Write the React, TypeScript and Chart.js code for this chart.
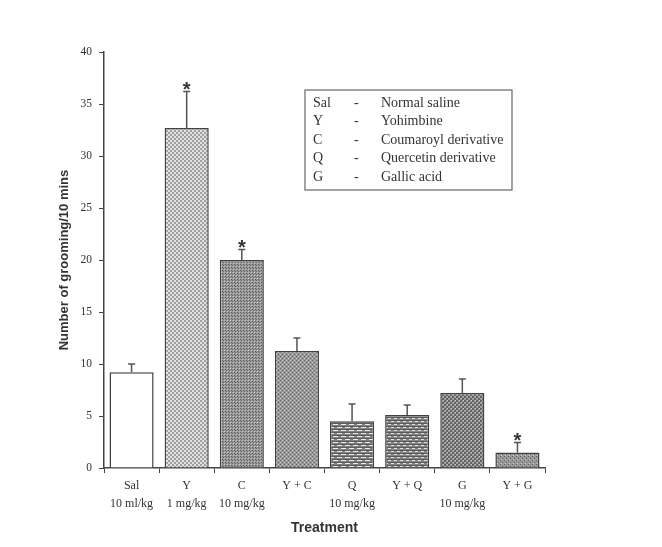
import React, { useEffect, useRef } from "react";
import { Chart, registerables } from "chart.js";

Chart.register(...registerables);

// ---- data ----
const categories: string[][] = [
  ["Sal", "10 ml/kg"],
  ["Y", "1 mg/kg"],
  ["C", "10 mg/kg"],
  ["Y + C"],
  ["Q", "10 mg/kg"],
  ["Y + Q"],
  ["G", "10 mg/kg"],
  ["Y + G"],
];
const means = [9.2, 32.7, 20.0, 11.25, 4.5, 5.1, 7.2, 1.5];
const errors = [0.8, 3.5, 1.0, 1.25, 1.65, 0.95, 1.35, 0.95];
const significant = [false, true, true, false, false, false, false, true];
const yMin = 0;
const yMax = 40;
const yStep = 5;
const legendAbbr = ["Sal", "Y", "C", "Q", "G"];
const legendNames = [
  "Normal saline",
  "Yohimbine",
  "Coumaroyl derivative",
  "Quercetin derivative",
  "Gallic acid",
];
const yTitle = "Number of grooming/10 mins";
const xTitle = "Treatment";

// ---- patterns ----
type Rect = [number, number, number, number, string];
function makePattern(w: number, h: number, bg: string, rects: Rect[]): CanvasPattern | string {
  const c = document.createElement("canvas");
  c.width = w;
  c.height = h;
  const g = c.getContext("2d");
  if (!g) return bg;
  g.fillStyle = bg;
  g.fillRect(0, 0, w, h);
  for (const [x, y, rw, rh, col] of rects) {
    g.fillStyle = col;
    g.fillRect(x, y, rw, rh);
  }
  const p = g.createPattern(c, "repeat");
  return p || bg;
}

function buildFills(): (CanvasPattern | string)[] {
  return [
    "#ffffff",
    makePattern(4, 4, "#e2e2e2", [
      [0, 0, 2, 2, "#a0a0a0"],
      [2, 2, 2, 2, "#a0a0a0"],
    ]),
    makePattern(3, 3, "#9a9a9a", [
      [0, 0, 1, 1, "#5a5a5a"],
      [1, 1, 1, 1, "#666666"],
      [2, 2, 1, 1, "#c0c0c0"],
    ]),
    makePattern(4, 4, "#9a9a9a", [
      [0, 0, 1, 1, "#5e5e5e"],
      [2, 2, 1, 1, "#5e5e5e"],
      [2, 0, 1, 1, "#c4c4c4"],
      [0, 2, 1, 1, "#c4c4c4"],
    ]),
    makePattern(8, 6, "#808080", [
      [0, 0, 8, 1, "#5c5c5c"],
      [1, 1, 5, 1, "#ececec"],
      [0, 3, 8, 1, "#5c5c5c"],
      [5, 4, 3, 1, "#ececec"],
      [0, 4, 2, 1, "#ececec"],
    ]),
    makePattern(6, 6, "#868686", [
      [0, 0, 6, 1, "#5a5a5a"],
      [1, 1, 3, 1, "#e0e0e0"],
      [0, 3, 6, 1, "#5a5a5a"],
      [4, 4, 2, 1, "#e0e0e0"],
      [0, 4, 1, 1, "#e0e0e0"],
    ]),
    makePattern(4, 4, "#9a9a9a", [
      [0, 0, 2, 2, "#646464"],
      [2, 2, 2, 2, "#646464"],
      [3, 0, 1, 1, "#c0c0c0"],
      [1, 2, 1, 1, "#c0c0c0"],
    ]),
    makePattern(4, 4, "#9a9a9a", [
      [0, 0, 1, 1, "#5e5e5e"],
      [2, 2, 1, 1, "#5e5e5e"],
      [1, 3, 1, 1, "#cccccc"],
    ]),
  ];
}

const errorBarPlugin = {
  id: "errorBars",
  afterDatasetsDraw(chart: any) {
    const ctx = chart.ctx as CanvasRenderingContext2D;
    const meta = chart.getDatasetMeta(0);
    const yScale = chart.scales.y;
    ctx.save();
    ctx.strokeStyle = "#555555";
    ctx.lineWidth = 1.5;
    meta.data.forEach((bar: any, i: number) => {
      const x = bar.x;
      const yTop = yScale.getPixelForValue(means[i]);
      const yErr = yScale.getPixelForValue(means[i] + errors[i]);
      ctx.beginPath();
      ctx.moveTo(x, yTop);
      ctx.lineTo(x, yErr);
      ctx.moveTo(x - 3.5, yErr);
      ctx.lineTo(x + 3.5, yErr);
      ctx.stroke();
      if (significant[i]) {
        ctx.fillStyle = "#333333";
        ctx.font = "bold 20px 'Liberation Sans', Arial, sans-serif";
        ctx.textAlign = "center";
        ctx.textBaseline = "alphabetic";
        ctx.fillText("*", x, yErr + 4);
      }
    });
    ctx.restore();
  },
};

const legendBoxPlugin = {
  id: "legendBox",
  afterDraw(chart: any) {
    const ctx = chart.ctx as CanvasRenderingContext2D;
    const area = chart.chartArea;
    const left = area.left + 201;
    const top = area.top + 38;
    const w = 207;
    const h = 100;
    ctx.save();
    ctx.fillStyle = "#ffffff";
    ctx.fillRect(left, top, w, h);
    ctx.strokeStyle = "#666666";
    ctx.lineWidth = 1.2;
    ctx.strokeRect(left, top, w, h);
    ctx.fillStyle = "#333333";
    ctx.font = "14px 'Liberation Serif', 'Times New Roman', serif";
    ctx.textBaseline = "middle";
    ctx.textAlign = "left";
    legendAbbr.forEach((a, i) => {
      const y = top + 13 + i * 18.5;
      ctx.fillText(a, left + 8, y);
      ctx.fillText("-", left + 49, y);
      ctx.fillText(legendNames[i], left + 76, y);
    });
    ctx.restore();
  },
};

export default function App() {
  const ref = useRef<HTMLCanvasElement | null>(null);
  useEffect(() => {
    document.body.style.margin = "0";
    if (!ref.current) return;
    const fills = buildFills();
    const chart = new Chart(ref.current, {
      type: "bar",
      data: {
        labels: categories,
        datasets: [
          {
            data: means,
            backgroundColor: fills as any,
            borderColor: "#404040",
            borderWidth: 1.5,
            barPercentage: 0.8,
            categoryPercentage: 1.0,
          },
        ],
      },
      options: {
        animation: false,
        responsive: false,
        devicePixelRatio: 1,
        layout: { padding: { top: 52, right: 117, bottom: 0, left: 0 } },
        plugins: {
          legend: { display: false },
          tooltip: { enabled: false },
        },
        scales: {
          x: {
            grid: {
              offset: true,
              drawOnChartArea: false,
              drawTicks: true,
              tickLength: 5,
              color: "#444444",
            },
            border: { display: true, color: "#444444", width: 1.5 },
            ticks: {
              color: "#333333",
              padding: 4,
              maxRotation: 0,
              autoSkip: false,
              font: { family: "'Liberation Serif', 'Times New Roman', serif", size: 12, lineHeight: 1.5 },
            },
            title: {
              display: true,
              text: xTitle,
              color: "#333333",
              font: { family: "'Liberation Sans', Arial, sans-serif", size: 14, weight: "bold" },
              padding: { top: 0, bottom: 10 },
            },
            afterFit: (scale: any) => {
              scale.height = 79;
            },
          },
          y: {
            min: yMin,
            max: yMax,
            ticks: {
              stepSize: yStep,
              color: "#333333",
              padding: 7,
              font: { family: "'Liberation Serif', 'Times New Roman', serif", size: 11.5 },
            },
            grid: {
              drawOnChartArea: false,
              drawTicks: true,
              tickLength: 5,
              color: "#444444",
            },
            border: { display: true, color: "#444444", width: 1.5 },
            title: {
              display: true,
              text: yTitle,
              color: "#333333",
              font: { family: "'Liberation Sans', Arial, sans-serif", size: 13, weight: "bold" },
              padding: { top: 57, bottom: 0 },
            },
            afterFit: (scale: any) => {
              scale.width = 104;
            },
          },
        },
      },
      plugins: [errorBarPlugin, legendBoxPlugin],
    });
    return () => chart.destroy();
  }, []);
  return (
    <div style={{ width: 662, height: 547, background: "#ffffff" }}>
      <canvas ref={ref} width={662} height={547} style={{ display: "block" }} />
    </div>
  );
}
